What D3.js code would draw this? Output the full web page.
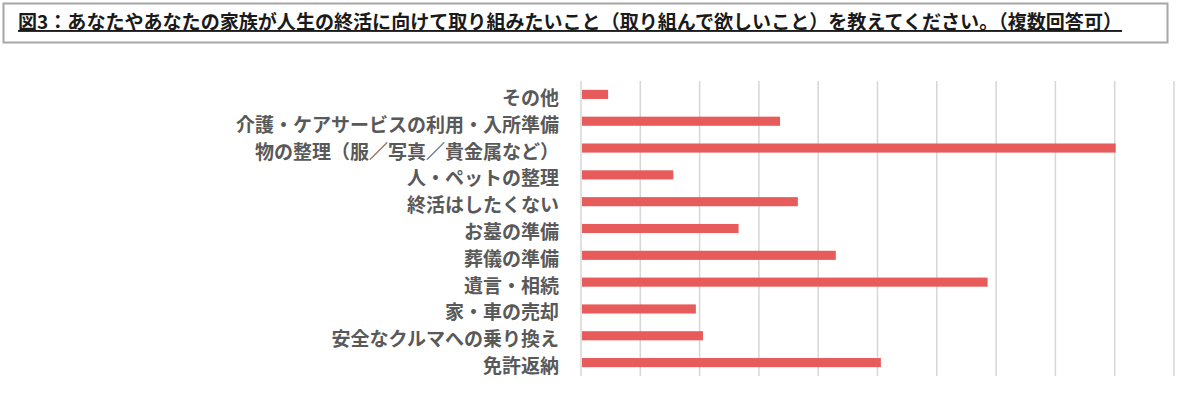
<!DOCTYPE html>
<html>
<head>
<meta charset="utf-8">
<script src="https://cdn.jsdelivr.net/npm/d3@7"></script>
<style>
  body { margin: 0; background: #fff; }
  svg { display: block; }
</style>
</head>
<body>
<svg id="chart"></svg>
<script>
// Chart data (percent of respondents)
const title = '図3：あなたやあなたの家族が人生の終活に向けて取り組みたいこと（取り組んで欲しいこと）を教えてください。（複数回答可）';
const categories = [
    'その他',
    '介護・ケアサービスの利用・入所準備',
    '物の整理（服／写真／貴金属など）',
    '人・ペットの整理',
    '終活はしたくない',
    'お墓の準備',
    '葬儀の準備',
    '遺言・相続',
    '家・車の売却',
    '安全なクルマへの乗り換え',
    '免許返納'
];
const values = [2.2, 16.7, 45.0, 7.7, 18.2, 13.2, 21.4, 34.2, 9.6, 10.2, 25.2];
const gridTicks = [0, 5, 10, 15, 20, 25, 30, 35, 40, 45, 50];

const width = 1200;
const height = 403;
const font = '"Noto Sans CJK JP", "Noto Sans", sans-serif';

const svg = d3.select('#chart')
    .attr('width', width)
    .attr('height', height);

// Title box
svg.append('rect')
    .attr('x', 3.5)
    .attr('y', 3.5)
    .attr('width', 1164)
    .attr('height', 39)
    .attr('fill', '#fff')
    .attr('stroke', '#a6a6a6')
    .attr('stroke-width', 2);

svg.append('text')
    .attr('x', 18)
    .attr('y', 29)
    .attr('textLength', 1104)
    .attr('lengthAdjust', 'spacingAndGlyphs')
    .style('font-family', font)
    .style('font-weight', 'bold')
    .style('font-size', '19px')
    .style('fill', '#1a1a1a')
    .style('text-decoration', 'underline')
    .text(title);

// Scales
const x = d3.scaleLinear()
    .domain([0, 50])
    .range([581, 1174]);

const y = d3.scaleBand()
    .domain(categories)
    .range([81, 376])
    .paddingInner(0.66)
    .paddingOuter(0.33);

// Vertical gridlines
svg.append('g')
    .selectAll('line')
    .data(gridTicks)
    .enter().append('line')
    .attr('x1', d => x(d))
    .attr('x2', d => x(d))
    .attr('y1', 81)
    .attr('y2', 376)
    .style('stroke', '#d6d6d6')
    .style('stroke-width', 1.5);

// Bars
svg.append('g')
    .selectAll('rect')
    .data(categories)
    .enter().append('rect')
    .attr('x', x(0) + 1)
    .attr('y', d => y(d))
    .attr('width', (d, i) => x(values[i]) - x(0))
    .attr('height', y.bandwidth())
    .style('fill', '#e85b5b');

// Category labels
svg.append('g')
    .selectAll('text')
    .data(categories)
    .enter().append('text')
    .attr('x', 559)
    .attr('y', d => y(d) + y.bandwidth() / 2 + 2)
    .attr('text-anchor', 'end')
    .attr('dominant-baseline', 'central')
    .style('font-family', font)
    .style('font-weight', 'bold')
    .style('font-size', '19px')
    .style('fill', '#595959')
    .text(d => d);
</script>
</body>
</html>
